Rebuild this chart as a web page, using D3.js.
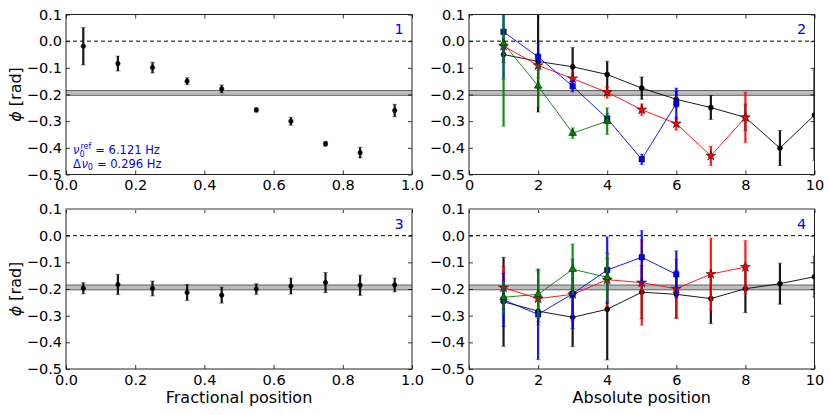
<!DOCTYPE html>
<html>
<head>
<meta charset="utf-8">
<script src="https://cdn.jsdelivr.net/npm/d3@7"></script>
<style>
  body { margin: 0; background: #fff; }
  svg { display: block; font-family: "DejaVu Sans", sans-serif; }
</style>
</head>
<body>
<div id="chart"></div>
<script>
// ---- data ----
const fracPos = [0.05, 0.15, 0.25, 0.35, 0.45, 0.55, 0.65, 0.75, 0.85, 0.95];
const absPos = [1, 2, 3, 4, 5, 6, 7, 8, 9, 10];

// panel 1
const phase1 = [-0.019, -0.084, -0.099, -0.150, -0.179, -0.258, -0.300, -0.385, -0.418, -0.260];
const err1 = [0.070, 0.028, 0.020, 0.013, 0.015, 0.008, 0.015, 0.009, 0.020, 0.023];

// panel 3
const phase3 = [-0.197, -0.183, -0.198, -0.213, -0.223, -0.200, -0.189, -0.176, -0.186, -0.185];
const err3 = [0.021, 0.038, 0.028, 0.030, 0.030, 0.020, 0.030, 0.038, 0.038, 0.026];

// panel 2
const black2 = [-0.050, -0.076, -0.096, -0.125, -0.176, -0.218, -0.249, -0.286, -0.401, -0.277];
const black2Err = [0.030, 0.190, 0.072, 0.050, 0.042, 0.030, 0.045, 0.050, 0.066, 0.170];
const red2 = [-0.018, -0.091, -0.140, -0.192, -0.257, -0.309, -0.430, -0.286];
const red2Err = [0.030, 0.045, 0.020, 0.022, 0.022, 0.025, 0.037, 0.095];
const blue2 = [0.035, -0.059, -0.169, -0.290, -0.443, -0.234];
const blue2Err = [0.177, 0.050, 0.022, 0.020, 0.020, 0.058];
const green2 = [-0.009, -0.168, -0.345, -0.300];
const green2Err = [0.310, 0.080, 0.020, 0.050];

// panel 4
const black4 = [-0.248, -0.283, -0.306, -0.276, -0.212, -0.220, -0.236, -0.199, -0.180, -0.154];
const black4Err = [0.167, 0.040, 0.110, 0.190, 0.100, 0.090, 0.094, 0.090, 0.077, 0.077];
const red4 = [-0.195, -0.236, -0.220, -0.165, -0.176, -0.199, -0.144, -0.118];
const red4Err = [0.080, 0.100, 0.100, 0.100, 0.160, 0.110, 0.135, 0.100];
const blue4 = [-0.241, -0.295, -0.218, -0.129, -0.081, -0.145];
const blue4Err = [0.100, 0.170, 0.130, 0.125, 0.100, 0.088];
const green4 = [-0.231, -0.220, -0.126, -0.156];
const green4Err = [0.060, 0.090, 0.095, 0.090];

// reference band and tick values
const bandLow = -0.203;
const bandHigh = -0.185;
const yTicks = [0.1, 0.0, -0.1, -0.2, -0.3, -0.4, -0.5];
const fracTicks = [0.0, 0.2, 0.4, 0.6, 0.8, 1.0];
const absTicks = [0, 2, 4, 6, 8, 10];

// ---- figure ----
const W = 830, H = 415;
const TICK_FONT = 14.5, LABEL_FONT = 16;
const svg = d3.select('#chart').append('svg')
  .attr('width', W)
  .attr('height', H);

const series = (y, err, color, symbol, size) =>
  ({ points: y.map((v, i) => ({ x: absPos[i], y: v, e: err[i] })), color, symbol, size });

const panels = [
  { id: 1, left: 66, right: 412, top: 14.5, bottom: 174.5, xDomain: [0, 1], xTicks: fracTicks, fmt: d3.format('.1f'),
    lines: false, pad: 5,
    series: [{ points: fracPos.map((x, i) => ({ x, y: phase1[i], e: err1[i] })), color: '#000', symbol: d3.symbolCircle, size: 16 }] },
  { id: 2, left: 469, right: 814.5, top: 14.5, bottom: 174.5, xDomain: [0, 10], xTicks: absTicks, fmt: d3.format('d'),
    lines: true, pad: 5,
    series: [
      series(black2, black2Err, '#000', d3.symbolCircle, 20),
      series(red2, red2Err, '#ff0000', d3.symbolStar, 30),
      series(blue2, blue2Err, '#0000ff', d3.symbolSquare, 30),
      series(green2, green2Err, '#008000', d3.symbolTriangle, 26)
    ] },
  { id: 3, left: 66, right: 412, top: 209, bottom: 369, xDomain: [0, 1], xTicks: fracTicks, fmt: d3.format('.1f'),
    lines: false, pad: 6, xLabel: 'Fractional position', greyTop: true,
    series: [{ points: fracPos.map((x, i) => ({ x, y: phase3[i], e: err3[i] })), color: '#000', symbol: d3.symbolCircle, size: 16 }] },
  { id: 4, left: 469, right: 814.5, top: 209, bottom: 369, xDomain: [0, 10], xTicks: absTicks, fmt: d3.format('d'),
    lines: true, pad: 6, xLabel: 'Absolute position', greyTop: true,
    series: [
      series(black4, black4Err, '#000', d3.symbolCircle, 20),
      series(red4, red4Err, '#ff0000', d3.symbolStar, 30),
      series(blue4, blue4Err, '#0000ff', d3.symbolSquare, 30),
      series(green4, green4Err, '#008000', d3.symbolTriangle, 26)
    ] }
];

panels.forEach(p => {
  const w = p.right - p.left, h = p.bottom - p.top;
  const x = d3.scaleLinear().domain(p.xDomain).range([0, w]);
  const y = d3.scaleLinear().domain([-0.5, 0.1]).range([h, 0]);
  const g = svg.append('g').attr('transform', `translate(${p.left},${p.top})`);

  const clipId = `clip${p.id}`;
  g.append('clipPath').attr('id', clipId)
    .append('rect').attr('width', w).attr('height', h);
  const plot = g.append('g').attr('clip-path', `url(#${clipId})`);

  // reference band
  plot.append('rect')
    .attr('x', 0).attr('width', w)
    .attr('y', y(bandHigh)).attr('height', y(bandLow) - y(bandHigh))
    .attr('fill', '#bdbdbd');
  [bandHigh, bandLow].forEach(v => {
    plot.append('line')
      .attr('x1', 0).attr('x2', w)
      .attr('y1', y(v)).attr('y2', y(v))
      .attr('stroke', '#555').attr('stroke-width', 0.9);
  });

  // zero line
  plot.append('line')
    .attr('x1', 0).attr('x2', w)
    .attr('y1', y(0)).attr('y2', y(0))
    .attr('stroke', '#000').attr('stroke-width', 1)
    .attr('stroke-dasharray', '4,3');

  p.series.forEach(s => {
    const sg = plot.append('g');
    if (p.lines) {
      sg.append('path')
        .datum(s.points)
        .attr('d', d3.line().x(d => x(d.x)).y(d => y(d.y)))
        .attr('fill', 'none')
        .attr('stroke', s.color)
        .attr('stroke-width', 0.9);
    }
    // error bars
    sg.selectAll('line.err').data(s.points).join('line')
      .attr('class', 'err')
      .attr('x1', d => x(d.x)).attr('x2', d => x(d.x))
      .attr('y1', d => y(d.y - d.e)).attr('y2', d => y(d.y + d.e))
      .attr('stroke', s.color)
      .attr('stroke-width', 2.2)
      .attr('stroke-opacity', 0.9);
    // faint caps
    sg.selectAll('line.cap').data(s.points.flatMap(d => [d.y - d.e, d.y + d.e].map(v => ({ x: d.x, v }))))
      .join('line')
      .attr('class', 'cap')
      .attr('x1', d => x(d.x) - 2.5).attr('x2', d => x(d.x) + 2.5)
      .attr('y1', d => y(d.v)).attr('y2', d => y(d.v))
      .attr('stroke', s.color)
      .attr('stroke-width', 1)
      .attr('stroke-opacity', 0.4);
    // markers
    sg.selectAll('path.mk').data(s.points).join('path')
      .attr('class', 'mk')
      .attr('transform', d => `translate(${x(d.x)},${y(d.y)})`)
      .attr('d', d3.symbol().type(s.symbol).size(s.size))
      .attr('fill', s.color)
      .attr('stroke', '#000')
      .attr('stroke-width', 0.5);
  });

  // axes with inward ticks on all four sides
  const tick = 4;
  g.append('g')
    .call(d3.axisLeft(y).tickValues(yTicks).tickFormat(d3.format('.1f'))
      .tickSizeInner(-tick).tickSizeOuter(0).tickPadding(4))
    .call(a => a.select('.domain').remove());
  g.append('g').attr('transform', `translate(${w},0)`)
    .call(d3.axisRight(y).tickValues(yTicks).tickFormat('')
      .tickSizeInner(-tick).tickSizeOuter(0))
    .call(a => a.select('.domain').remove());
  g.append('g').attr('transform', `translate(0,${h})`)
    .call(d3.axisBottom(x).tickValues(p.xTicks).tickFormat(p.fmt)
      .tickSizeInner(-tick).tickSizeOuter(0).tickPadding(p.pad))
    .call(a => a.select('.domain').remove());
  g.append('g')
    .call(d3.axisTop(x).tickValues(p.xTicks).tickFormat('')
      .tickSizeInner(-tick).tickSizeOuter(0))
    .call(a => a.select('.domain').remove());
  g.selectAll('.tick text')
    .attr('font-family', '"DejaVu Sans", sans-serif')
    .attr('font-size', TICK_FONT)
    .attr('fill', '#000');
  g.selectAll('.tick line').attr('stroke', '#000').attr('stroke-width', 0.8);

  // frame
  g.append('rect')
    .attr('width', w).attr('height', h)
    .attr('fill', 'none')
    .attr('stroke', '#222')
    .attr('stroke-width', 1);
  if (p.greyTop) {
    g.append('line')
      .attr('x1', 0).attr('x2', w).attr('y1', 0).attr('y2', 0)
      .attr('stroke', '#999').attr('stroke-width', 2);
  }

  // panel number
  g.append('text')
    .attr('x', w - 13).attr('y', 14.5)
    .attr('text-anchor', 'middle')
    .attr('dominant-baseline', 'central')
    .attr('font-size', 14.5)
    .attr('fill', '#0000ff')
    .text(p.id);

  if (p.xLabel) {
    g.append('text')
      .attr('x', w / 2).attr('y', h + 34)
      .attr('text-anchor', 'middle')
      .attr('font-size', LABEL_FONT)
      .attr('fill', '#000')
      .text(p.xLabel);
  }

  // y label on the left column
  if (p.left < 100) {
    const yl = svg.append('text')
      .attr('transform', `translate(21,${p.top + h / 2}) rotate(-90)`)
      .attr('text-anchor', 'middle')
      .attr('font-size', LABEL_FONT)
      .attr('fill', '#000');
    yl.append('tspan').attr('font-style', 'italic').text('ϕ');
    yl.append('tspan').text(' [rad]');
  }

  // frequency annotation in panel 1
  if (p.id === 1) {
    const fs = 11.5, small = 8;
    const ann = g.append('g').attr('fill', '#0000ff').attr('font-size', fs);
    const x0 = 7, b1 = h - 20.5, b2 = h - 7;
    const put = (txt, xx, yy, size, italic) => {
      const t = ann.append('text').attr('x', xx).attr('y', yy).text(txt);
      if (size) t.attr('font-size', size);
      if (italic) t.attr('font-style', 'italic');
      return t.node().getComputedTextLength();
    };
    // line 1: nu_0^ref = 6.121 Hz
    let cx = x0 + put('ν', x0, b1, null, true);
    const wSub = put('0', cx, b1 + 2.5, small);
    const wSup = put('ref', cx + 1, b1 - 5, small);
    put('= 6.121 Hz', cx + Math.max(wSub, wSup + 1) + 4, b1);
    // line 2: Delta nu_0 = 0.296 Hz
    cx = x0 + put('Δ', x0, b2);
    cx += put('ν', cx + 0.5, b2, null, true) + 0.5;
    cx += put('0', cx, b2 + 2.5, small);
    put('= 0.296 Hz', cx + 4, b2);
  }
});
</script>
</body>
</html>
